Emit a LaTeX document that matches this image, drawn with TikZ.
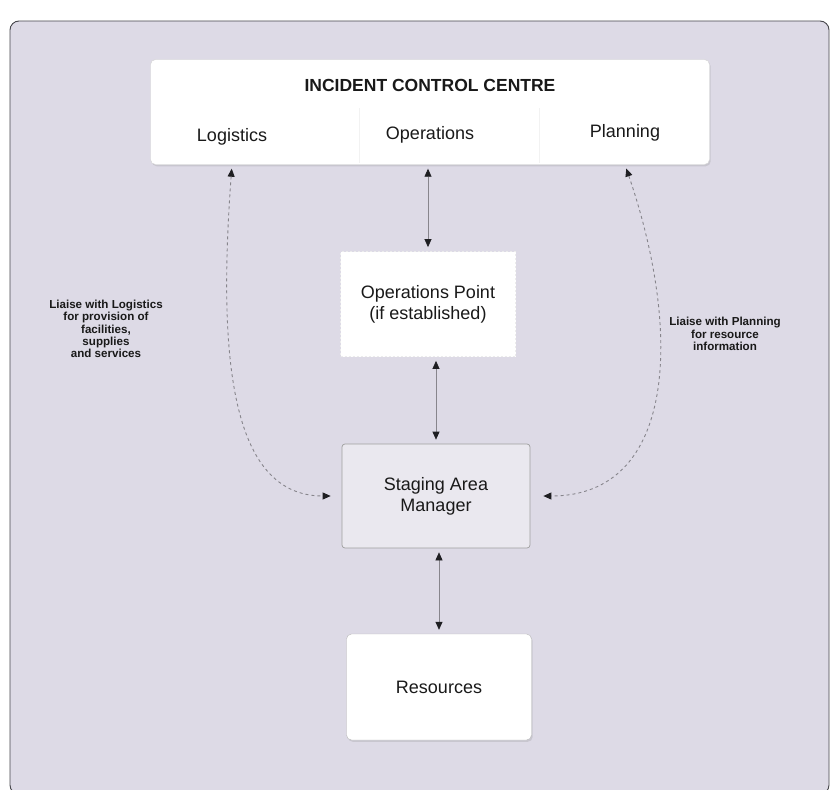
\documentclass[tikz,border=0pt]{standalone}
\usepackage{fontspec}
\setmainfont{Liberation Sans}
\usetikzlibrary{arrows.meta,shadows}
\definecolor{panelbg}{RGB}{221,218,230}
\definecolor{panelrule}{RGB}{70,70,75}
\definecolor{linkgray}{RGB}{135,133,140}
\definecolor{tipdark}{RGB}{30,30,34}
\definecolor{stagefill}{RGB}{234,232,239}
\tikzset{
  x=1pt, y=-1pt,
  tri/.tip={Triangle[length=8pt,width=7pt,color=tipdark]},
  boxtext/.style={font=\fontsize{18}{21}\selectfont, align=center, text=black!90},
  card/.style={fill=white, rounded corners=5pt, draw=gray!35, line width=0.4pt,
    drop shadow={opacity=0.22, shadow xshift=1.2pt, shadow yshift=-1.8pt}},
  link/.style={draw=linkgray, line width=0.7pt, {tri}-{tri}, shorten <=4pt, shorten >=4pt},
  liaise/.style={draw=linkgray, line width=0.9pt, dash pattern=on 3pt off 3pt, {tri}-{tri}},
  note/.style={font=\bfseries\fontsize{11.6}{12.2}\selectfont, align=center, text=black!90},
}
\begin{document}
\begin{tikzpicture}
\useasboundingbox (0,0) rectangle (833,790);
\fill[white] (0,0) rectangle (833,790);
% background panel
\draw[panelrule, fill=panelbg, line width=0.9pt, rounded corners=9pt] (10,21) rectangle (829,794);

% incident control centre
\node[card, minimum width=559pt, minimum height=105pt] (icc) at (430,112) {};
\draw[gray!10, line width=0.8pt] (359,108) -- (359,163) (539,108) -- (539,163);
\node[font=\bfseries\fontsize{17.5}{20}\selectfont, text=black!90] (title) at (430,85) {INCIDENT CONTROL CENTRE};
\node[boxtext] (lg) at (232,137) {Logistics};
\node[boxtext] (op) at (430,135) {Operations};
\node[boxtext] (pl) at (625,133) {Planning};

% operations point
\node[fill=white, draw=white!85!gray, dash pattern=on 2pt off 2pt, line width=0.8pt,
      minimum width=175pt, minimum height=105pt] (ops) at (428,304) {};
\node[boxtext] (opstext) at (ops) {Operations Point\\(if established)};

% staging area manager
\node[fill=stagefill, draw=gray!75, line width=0.7pt, rounded corners=3pt,
      minimum width=188pt, minimum height=104pt] (stage) at (436,496) {};
\node[boxtext] (stagetext) at (stage) {Staging Area\\Manager};

% resources
\node[card, draw=gray!55, minimum width=185pt, minimum height=106pt] (res) at (439,687) {};
\node[boxtext] (restext) at (res) {Resources};

% command links
\draw[link] (ops.north |- icc.south) -- (ops.north);
\draw[link] (stage.north |- ops.south) -- (stage.north);
\draw[link] (res.north |- stage.south) -- (res.north);

% liaison links
\coordinate (lgfoot) at (lg |- icc.south);
\coordinate (plfoot) at (pl |- icc.south);
\draw[liaise, shorten <=4pt, shorten >=11pt] (lgfoot) .. controls +(-14,190) and +(-112,0) .. (stage.west);
\draw[liaise, shorten <=4pt, shorten >=13pt] (plfoot) .. controls +(58,170) and +(145,0) .. (stage.east);

% liaison notes
\node[note] (lgnote) at (106,329) {Liaise with Logistics\\for provision of\\facilities,\\supplies\\and services};
\node[note] (plnote) at (725,334) {Liaise with Planning\\for resource\\information};
\end{tikzpicture}
\end{document}
